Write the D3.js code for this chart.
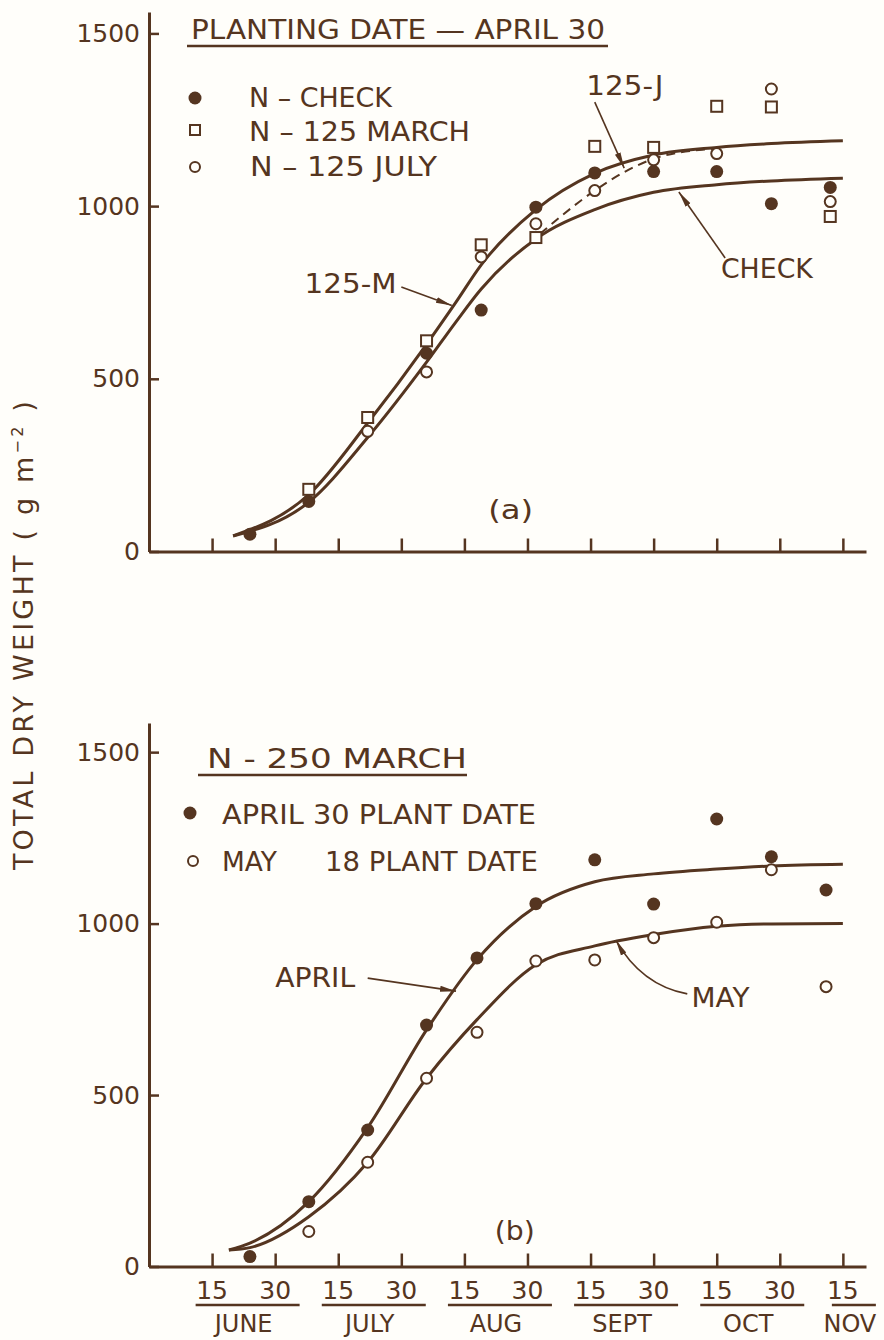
<!DOCTYPE html>
<html>
<head>
<meta charset="utf-8">
<script src="https://cdn.jsdelivr.net/npm/d3@7"></script>
<style>
  body { margin: 0; background: #fffefa; }
  svg text { font-family: "DejaVu Sans", sans-serif; fill: #553520; }
</style>
</head>
<body>
<svg id="chart" width="884" height="1340"></svg>
<script>
// ---- data (g m-2) ----
// sampling dates (month-day)
let datesA = ["6-24", "7-08", "7-22", "8-06", "8-19", "9-02", "9-16", "9-30", "10-15", "10-28", "11-12"];
let datesB = ["6-24", "7-08", "7-22", "8-06", "8-18", "9-02", "9-16", "9-30", "10-15", "10-28", "11-11"];

// (a) planting date April 30
let nCheck    = [50, 145, null, 574, 699, 997, 1096, 1100, 1100, 1007, 1054];
let n125March = [null, 180, 388, 610, 888, 909, 1173, 1170, 1289, 1287, 970];
let n125July  = [null, null, 348, 520, 853, 949, 1045, 1134, 1152, 1339, 1013];

// (b) N-250 March
let april30 = [29, 189, 398, 704, 900, 1058, 1186, 1057, 1305, 1195, 1098];
let may18   = [null, 102, 304, 549, 683, 891, 894, 959, 1004, 1157, 816];

// fitted curves
let fitDatesA = ["6-20", "7-08", "7-22", "8-06", "8-13", "8-19", "9-02", "9-16", "9-30", "10-15", "10-28", "11-15"];
let fit125M   = [45, 165, 372, 600, 722, 830, 990, 1095, 1148, 1170, 1181, 1189];
let fitCheck  = [45, 143, 330, 548, 665, 760, 905, 990, 1040, 1062, 1073, 1081];
let fitDatesJ = ["9-03", "9-16", "9-24", "9-30", "10-14"];
let fit125J   = [920, 1045, 1105, 1137, 1166];

let fitDatesB = ["6-19", "6-24", "7-08", "7-22", "8-06", "8-18", "9-02", "9-16", "9-30", "10-15", "10-28", "11-15"];
let fitApril  = [48, 68, 189, 405, 690, 895, 1050, 1122, 1145, 1159, 1168, 1173];
let fitMay    = [48, 55, 145, 304, 549, 720, 880, 935, 968, 992, 999, 1000];

// axis labels
let yTicks = [0, 500, 1000, 1500];
let months = ["JUNE", "JULY", "AUG", "SEPT", "OCT", "NOV"];
let dayLabels = ["15", "30"];

// ---- setup ----
const ink = "#553520";
const font = "DejaVu Sans, sans-serif";

// half-month axis: every month counted as 30 days, June 0 = May 31
function toDay(s) {
  let [m, d] = s.split("-").map(Number);
  return (m - 6) * 30 + d;
}

let svg = d3.select("#chart");

let x = d3.scaleLinear().domain([0, 170.5]).range([149, 866]);
let halfMonths = d3.range(15, 166, 15);

svg.append("defs").append("marker")
  .attr("id", "head")
  .attr("markerUnits", "userSpaceOnUse")
  .attr("markerWidth", 18).attr("markerHeight", 8)
  .attr("refX", 16).attr("refY", 4)
  .attr("orient", "auto")
  .append("path")
  .attr("d", "M0,1 L16,4 L0,7 Z")
  .attr("fill", ink);

function zip(dates, vals) {
  return dates.map((d, i) => ({ day: toDay(d), v: vals[i] })).filter(d => d.v != null);
}

function fitText(sel, len) {
  sel.attr("textLength", len).attr("lengthAdjust", "spacingAndGlyphs");
}

function drawPanel(p) {
  let y = d3.scaleLinear().domain([0, p.yMax]).range([p.y0, p.yTop]);

  // axes
  let xa = svg.append("g")
    .attr("transform", `translate(0,${p.y0})`)
    .call(d3.axisBottom(x).tickValues(halfMonths).tickSize(-13).tickSizeOuter(0).tickFormat(""));
  let ya = svg.append("g")
    .attr("transform", `translate(${x(0)},0)`)
    .call(d3.axisLeft(y).tickValues(yTicks).tickSize(-10).tickSizeOuter(0).tickPadding(9).tickFormat(d3.format("d")));
  [xa, ya].forEach(a => {
    a.select(".domain").attr("stroke", ink).attr("stroke-width", 3);
    a.selectAll(".tick line").attr("stroke", ink).attr("stroke-width", 2.5);
  });
  ya.selectAll(".tick text")
    .attr("fill", ink)
    .style("font-family", font)
    .style("font-size", "25px");

  let line = d3.line()
    .x(d => x(d.day))
    .y(d => y(d.v))
    .curve(d3.curveMonotoneX);

  // fitted curves
  p.curves.forEach(c => {
    svg.append("path")
      .datum(zip(c.dates, c.vals))
      .attr("d", line)
      .attr("fill", "none")
      .attr("stroke", ink)
      .attr("stroke-width", c.dash ? 2 : 3)
      .attr("stroke-dasharray", c.dash ? "9,6" : null);
  });

  // observations
  p.series.forEach(s => {
    let pts = zip(s.dates, s.vals);
    let g = svg.append("g");
    if (s.shape === "square") {
      g.selectAll("rect").data(pts).enter().append("rect")
        .attr("x", d => x(d.day) - 5.5)
        .attr("y", d => y(d.v) - 5.5)
        .attr("width", 11).attr("height", 11)
        .attr("fill", "#fffefa").attr("stroke", ink).attr("stroke-width", 2);
    } else {
      g.selectAll("circle").data(pts).enter().append("circle")
        .attr("cx", d => x(d.day))
        .attr("cy", d => y(d.v))
        .attr("r", s.shape === "filled" ? 6.5 : 5.5)
        .attr("fill", s.shape === "filled" ? ink : "#fffefa")
        .attr("stroke", ink)
        .attr("stroke-width", s.shape === "filled" ? 0 : 2);
    }
  });

  // curve labels with arrows
  p.notes.forEach(n => {
    let t = svg.append("text")
      .attr("x", x(toDay(n.at[0])))
      .attr("y", y(n.at[1]))
      .attr("text-anchor", n.anchor || "start")
      .style("font-size", "26px")
      .text(n.text);
    if (n.len) fitText(t, n.len);
    if (!n.to) return;
    let path = d3.path();
    path.moveTo(x(toDay(n.from[0])), y(n.from[1]));
    if (n.ctrl) {
      path.quadraticCurveTo(x(toDay(n.ctrl[0])), y(n.ctrl[1]), x(toDay(n.to[0])), y(n.to[1]));
    } else {
      path.lineTo(x(toDay(n.to[0])), y(n.to[1]));
    }
    svg.append("path")
      .attr("d", path.toString())
      .attr("fill", "none")
      .attr("stroke", ink)
      .attr("stroke-width", 1.6)
      .attr("marker-end", "url(#head)");
  });

  // title, underline and legend
  fitText(svg.append("text")
    .attr("x", p.title.x).attr("y", p.title.y)
    .style("font-size", "27px")
    .text(p.title.text), p.title.len);
  svg.append("line")
    .attr("x1", p.title.u[0]).attr("x2", p.title.u[1])
    .attr("y1", p.title.y + 7).attr("y2", p.title.y + 7)
    .attr("stroke", ink).attr("stroke-width", 2.5);

  p.legend.forEach(l => {
    if (l.shape === "square") {
      svg.append("rect")
        .attr("x", l.mx - 5).attr("y", l.my - 5)
        .attr("width", 10).attr("height", 10)
        .attr("fill", "none").attr("stroke", ink).attr("stroke-width", 2);
    } else {
      svg.append("circle")
        .attr("cx", l.mx).attr("cy", l.my)
        .attr("r", l.shape === "filled" ? 6.5 : 5)
        .attr("fill", l.shape === "filled" ? ink : "none")
        .attr("stroke", ink)
        .attr("stroke-width", l.shape === "filled" ? 0 : 2);
    }
    l.parts.forEach(pt => {
      fitText(svg.append("text")
        .attr("x", pt[0]).attr("y", l.ty)
        .style("font-size", "26px")
        .text(pt[1]), pt[2]);
    });
  });
}

drawPanel({
  y0: 551.5, yTop: 12, yMax: 1562,
  curves: [
    { dates: fitDatesA, vals: fit125M },
    { dates: fitDatesA, vals: fitCheck },
    { dates: fitDatesJ, vals: fit125J, dash: true }
  ],
  series: [
    { dates: datesA, vals: n125March, shape: "square" },
    { dates: datesA, vals: n125July, shape: "open" },
    { dates: datesA, vals: nCheck, shape: "filled" }
  ],
  notes: [
    { text: "125-M", at: ["7-07", 748], len: 92, from: ["7-30", 766], to: ["8-12", 712] },
    { text: "125-J", at: ["9-14", 1322], len: 77, from: ["9-16", 1301], to: ["9-23", 1110] },
    { text: "CHECK", at: ["10-16", 792], len: 92, from: ["10-17", 850], to: ["10-06", 1041] },
    { text: "(a)", at: ["8-26", 94], anchor: "middle", len: 45 }
  ],
  title: { text: "PLANTING DATE — APRIL 30", x: 191, y: 39, len: 414, u: [187, 608] },
  legend: [
    { shape: "filled", mx: 195, my: 98, ty: 107, parts: [[249, "N – CHECK", 143]] },
    { shape: "square", mx: 195, my: 130, ty: 141, parts: [[249, "N – 125 MARCH", 221]] },
    { shape: "open", mx: 195, my: 167, ty: 176, parts: [[250, "N – 125 JULY", 187]] }
  ]
});

drawPanel({
  y0: 1266.5, yTop: 723, yMax: 1585,
  curves: [
    { dates: fitDatesB, vals: fitApril },
    { dates: fitDatesB, vals: fitMay }
  ],
  series: [
    { dates: datesB, vals: may18, shape: "open" },
    { dates: datesB, vals: april30, shape: "filled" }
  ],
  notes: [
    { text: "APRIL", at: ["6-30", 815], len: 80, from: ["7-22", 841], to: ["8-13", 803] },
    { text: "MAY", at: ["10-09", 757], len: 58, from: ["10-08", 795], ctrl: ["9-27", 821], to: ["9-21", 952] },
    { text: "(b)", at: ["8-27", 77], anchor: "middle", len: 40 }
  ],
  title: { text: "N - 250 MARCH", x: 207, y: 768, len: 260, u: [198, 467] },
  legend: [
    { shape: "filled", mx: 190, my: 813, ty: 824, parts: [[222, "APRIL 30 PLANT DATE", 314]] },
    { shape: "open", mx: 193, my: 861, ty: 871, parts: [[222, "MAY", 55], [325, "18 PLANT DATE", 213]] }
  ]
});

// x axis labels under panel (b): day numbers, bracket line, month name
let xLab = svg.append("g");
months.forEach((m, i) => {
  let days = i < 5 ? dayLabels : dayLabels.slice(0, 1);
  let d0 = i * 30 + 15;
  days.forEach(dl => {
    xLab.append("text")
      .attr("x", x(i * 30 + Number(dl)))
      .attr("y", 1299)
      .attr("text-anchor", "middle")
      .style("font-size", "25px")
      .text(dl);
  });
  let mid = days.length > 1 ? (x(d0) + x(d0 + 15)) / 2 : x(d0) + 7;
  let half = days.length > 1 ? 52 : 22;
  xLab.append("line")
    .attr("x1", mid - half + 4).attr("x2", mid + half + 4)
    .attr("y1", 1305).attr("y2", 1305)
    .attr("stroke", ink).attr("stroke-width", 2.5);
  xLab.append("text")
    .attr("x", mid)
    .attr("y", 1332)
    .attr("text-anchor", "middle")
    .style("font-size", "24px")
    .text(m);
});

// y axis title, shared by both panels
let yt = svg.append("text")
  .attr("transform", "translate(33,634) rotate(-90)")
  .attr("text-anchor", "middle")
  .style("font-size", "27px")
  .style("letter-spacing", "3.2px");
yt.append("tspan").text("TOTAL DRY WEIGHT ( g m");
yt.append("tspan").attr("dy", -10).style("font-size", "16px").text("−2");
yt.append("tspan").attr("dy", 10).text(" )");
</script>
</body>
</html>
